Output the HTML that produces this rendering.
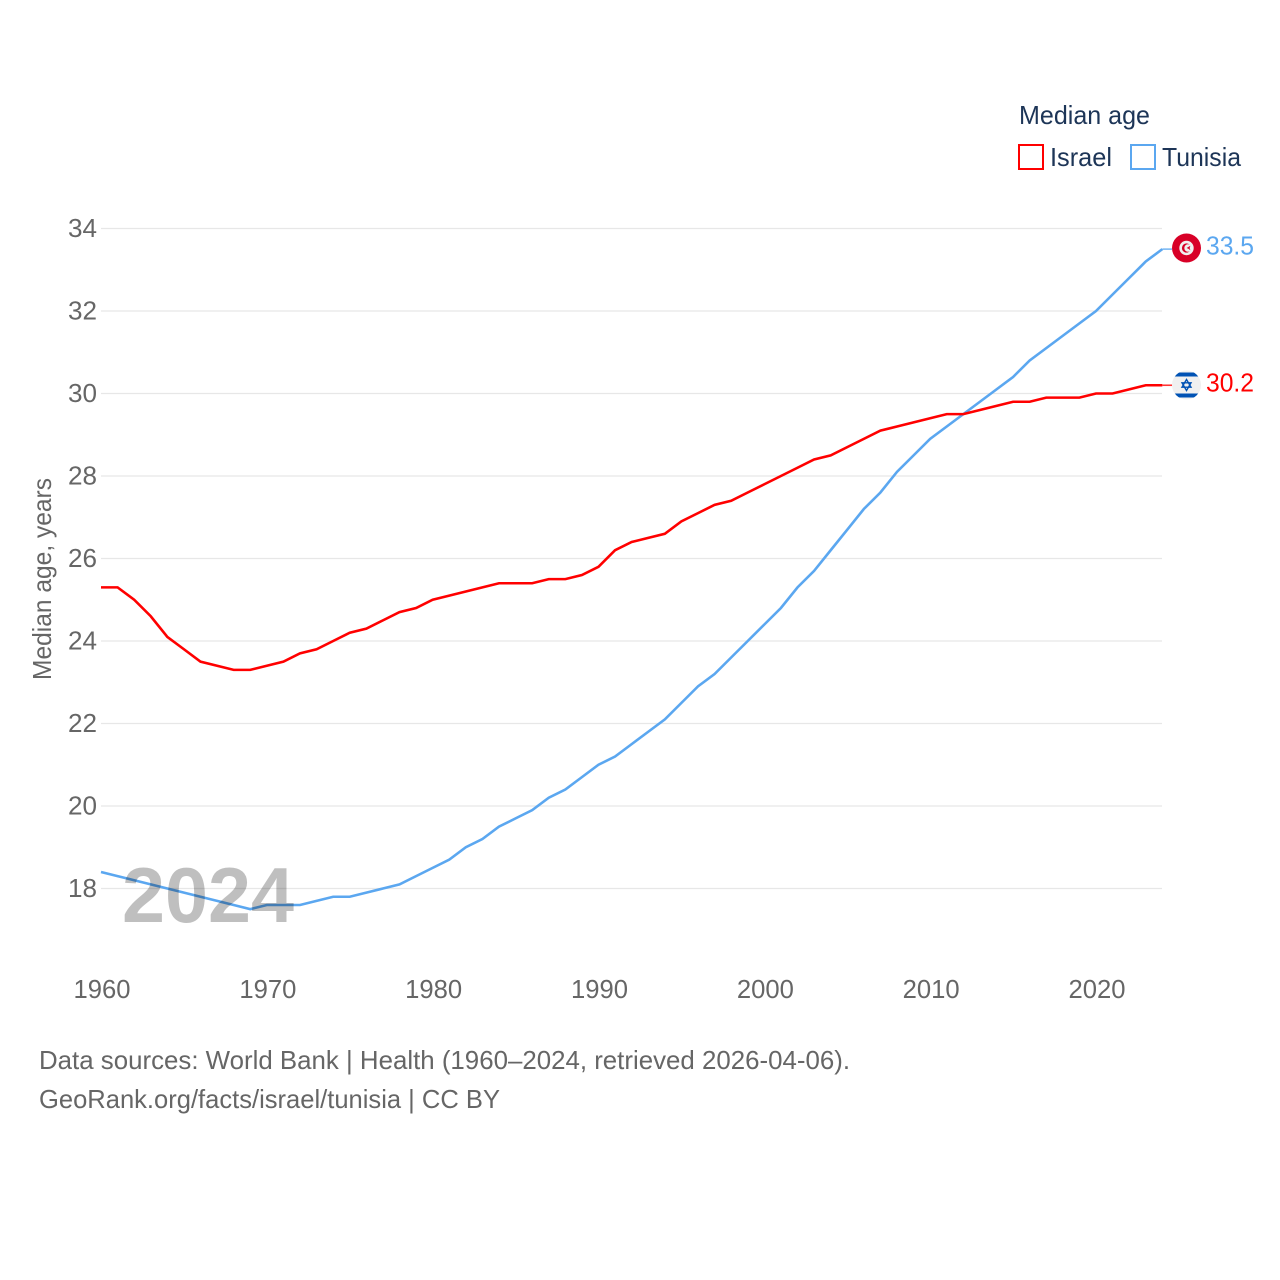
<!DOCTYPE html>
<html>
<head>
<meta charset="utf-8">
<style>
html,body{margin:0;padding:0;background:#fff;width:1280px;height:1280px;overflow:hidden}
svg{display:block}
text{font-family:"Liberation Sans",sans-serif}
</style>
</head>
<body>
<svg id="chart" width="1280" height="1280" viewBox="0 0 1280 1280" xmlns="http://www.w3.org/2000/svg">
  <defs>
    <clipPath id="il-clip"><circle cx="1186.5" cy="385" r="14.5"/></clipPath>
  </defs>
  <g id="grid"></g>
  <g id="yticks"></g>
  <g id="xticks"></g>
  <text transform="translate(51,680) rotate(-90)" font-size="26" fill="#666" textLength="202" lengthAdjust="spacingAndGlyphs">Median age, years</text>
  <g id="series"></g>
  <text x="122" y="922" font-size="78" font-weight="bold" fill="#000" fill-opacity="0.25" textLength="172" lengthAdjust="spacingAndGlyphs">2024</text>

  <g>
    <text x="1019" y="124" font-size="26" fill="#1d3557" textLength="131" lengthAdjust="spacingAndGlyphs">Median age</text>
    <g>
      <rect x="1019" y="145" width="24" height="24" fill="none" stroke="#ff0000" stroke-width="2"/>
      <text x="1050" y="166" font-size="26" fill="#1d3557" textLength="62" lengthAdjust="spacingAndGlyphs">Israel</text>
    </g>
    <g>
      <rect x="1131" y="145" width="24" height="24" fill="none" stroke="#5ba7f0" stroke-width="2"/>
      <text x="1162" y="166" font-size="26" fill="#1d3557" textLength="79" lengthAdjust="spacingAndGlyphs">Tunisia</text>
    </g>
  </g>

  <g>
    <circle cx="1186.5" cy="248" r="14.5" fill="#d80027"/>
    <circle cx="1186.5" cy="248" r="7.2" fill="#f0f0f0"/>
    <circle cx="1186.5" cy="248" r="4.6" fill="#d80027"/>
    <circle cx="1188" cy="248" r="3.7" fill="#f0f0f0"/>
    <polygon points="1190.4,245.8 1189.6,248 1190.4,250.2 1188.4,248.8 1186.6,248" fill="#d80027"/>
  </g>
  <g>
    <circle cx="1186.5" cy="385" r="14.5" fill="#f0f0f0"/>
    <g clip-path="url(#il-clip)">
      <rect x="1172" y="372.5" width="29" height="4" fill="#0052b4"/>
      <rect x="1172" y="393.5" width="29" height="4" fill="#0052b4"/>
    </g>
    <polygon points="1186.5,379.5 1191,387.2 1182,387.2" fill="none" stroke="#0052b4" stroke-width="1.4"/>
    <polygon points="1186.5,390.5 1191,382.8 1182,382.8" fill="none" stroke="#0052b4" stroke-width="1.4"/>
  </g>
  <text x="1206" y="254.5" font-size="26" fill="#5ba7f0" textLength="48" lengthAdjust="spacingAndGlyphs">33.5</text>
  <text x="1206" y="391.5" font-size="26" fill="#ff0000" textLength="48" lengthAdjust="spacingAndGlyphs">30.2</text>

  <g>
    <text x="39" y="1069" font-size="26" fill="#666" textLength="811" lengthAdjust="spacingAndGlyphs">Data sources: World Bank | Health (1960–2024, retrieved 2026-04-06).</text>
    <text x="39" y="1108" font-size="26" fill="#666" textLength="461" lengthAdjust="spacingAndGlyphs">GeoRank.org/facts/israel/tunisia | CC BY</text>
  </g>
</svg>
<script>
const startYear = 1960;
const yTickLabels = [18, 20, 22, 24, 26, 28, 30, 32, 34];
const xTickLabels = [1960, 1970, 1980, 1990, 2000, 2010, 2020];
const israelValues = [25.3,25.3,25.0,24.6,24.1,23.8,23.5,23.4,23.3,23.3,23.4,23.5,23.7,23.8,24.0,24.2,24.3,24.5,24.7,24.8,25.0,25.1,25.2,25.3,25.4,25.4,25.4,25.5,25.5,25.6,25.8,26.2,26.4,26.5,26.6,26.9,27.1,27.3,27.4,27.6,27.8,28.0,28.2,28.4,28.5,28.7,28.9,29.1,29.2,29.3,29.4,29.5,29.5,29.6,29.7,29.8,29.8,29.9,29.9,29.9,30.0,30.0,30.1,30.2,30.2];
const tunisiaValues = [18.4,18.3,18.2,18.1,18.0,17.9,17.8,17.7,17.6,17.5,17.6,17.6,17.6,17.7,17.8,17.8,17.9,18.0,18.1,18.3,18.5,18.7,19.0,19.2,19.5,19.7,19.9,20.2,20.4,20.7,21.0,21.2,21.5,21.8,22.1,22.5,22.9,23.2,23.6,24.0,24.4,24.8,25.3,25.7,26.2,26.7,27.2,27.6,28.1,28.5,28.9,29.2,29.5,29.8,30.1,30.4,30.8,31.1,31.4,31.7,32.0,32.4,32.8,33.2,33.5];

const NS = 'http://www.w3.org/2000/svg';
function xScale(year) { return 101 + (year - 1960) * (1096 - 101) / 60; }
function yScale(value) { return 888.5 - (value - 18) * (888.5 - 228.5) / 16; }

const grid = document.getElementById('grid');
const yticks = document.getElementById('yticks');
yTickLabels.forEach(function (t) {
  const line = document.createElementNS(NS, 'line');
  
  
  line.setAttribute('x1', 101);
  line.setAttribute('x2', 1162);
  line.setAttribute('y1', yScale(t));
  line.setAttribute('y2', yScale(t));
  line.setAttribute('stroke', '#e7e7e7');
  line.setAttribute('stroke-width', '1.3');
  grid.appendChild(line);
  const label = document.createElementNS(NS, 'text');
  
  
  label.setAttribute('x', 97);
  label.setAttribute('y', yScale(t) + 8.5);
  label.setAttribute('text-anchor', 'end');
  label.setAttribute('font-size', '26');
  label.setAttribute('fill', '#666');
  label.setAttribute('textLength', '29');
  label.setAttribute('lengthAdjust', 'spacingAndGlyphs');
  label.textContent = t;
  yticks.appendChild(label);
});

const xticks = document.getElementById('xticks');
xTickLabels.forEach(function (t) {
  const label = document.createElementNS(NS, 'text');
  
  
  label.setAttribute('x', xScale(t) + 1);
  label.setAttribute('y', 998);
  label.setAttribute('text-anchor', 'middle');
  label.setAttribute('font-size', '26');
  label.setAttribute('fill', '#666');
  label.setAttribute('textLength', '57');
  label.setAttribute('lengthAdjust', 'spacingAndGlyphs');
  label.textContent = t;
  xticks.appendChild(label);
});

function linePoints(values) {
  return values.map(function (v, i) {
    return xScale(startYear + i).toFixed(2) + ',' + yScale(v).toFixed(2);
  }).join(' ');
}
const seriesGroup = document.getElementById('series');

const tunisiaLine = document.createElementNS(NS, 'polyline');


tunisiaLine.setAttribute('points', linePoints(tunisiaValues));
tunisiaLine.setAttribute('fill', 'none');
tunisiaLine.setAttribute('stroke', '#5ba7f0');
tunisiaLine.setAttribute('stroke-width', '2.6');
seriesGroup.appendChild(tunisiaLine);

const israelLine = document.createElementNS(NS, 'polyline');


israelLine.setAttribute('points', linePoints(israelValues));
israelLine.setAttribute('fill', 'none');
israelLine.setAttribute('stroke', '#ff0000');
israelLine.setAttribute('stroke-width', '2.6');
seriesGroup.appendChild(israelLine);

const tunisiaConnector = document.createElementNS(NS, 'line');


tunisiaConnector.setAttribute('x1', xScale(startYear + tunisiaValues.length - 1));
tunisiaConnector.setAttribute('x2', 1172);
tunisiaConnector.setAttribute('y1', yScale(tunisiaValues[tunisiaValues.length - 1]));
tunisiaConnector.setAttribute('y2', yScale(tunisiaValues[tunisiaValues.length - 1]));
tunisiaConnector.setAttribute('stroke', '#5ba7f0');
tunisiaConnector.setAttribute('stroke-width', '1.6');
tunisiaConnector.setAttribute('stroke-opacity', '0.8');
seriesGroup.appendChild(tunisiaConnector);

const israelConnector = document.createElementNS(NS, 'line');


israelConnector.setAttribute('x1', xScale(startYear + israelValues.length - 1));
israelConnector.setAttribute('x2', 1172);
israelConnector.setAttribute('y1', yScale(israelValues[israelValues.length - 1]));
israelConnector.setAttribute('y2', yScale(israelValues[israelValues.length - 1]));
israelConnector.setAttribute('stroke', '#ff0000');
israelConnector.setAttribute('stroke-width', '1.6');
israelConnector.setAttribute('stroke-opacity', '0.8');
seriesGroup.appendChild(israelConnector);
</script>
</body>
</html>
